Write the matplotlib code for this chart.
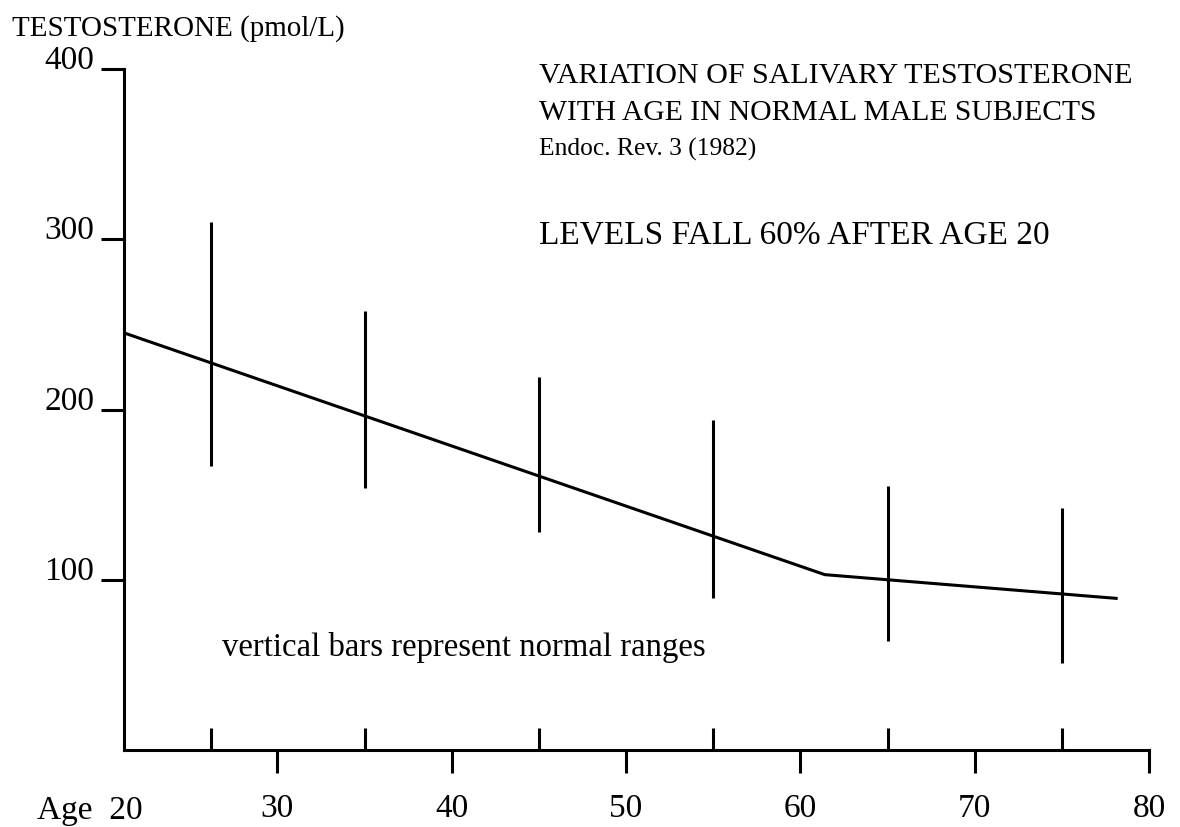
import matplotlib
matplotlib.use("Agg")
import matplotlib.pyplot as plt
from matplotlib.ticker import FixedLocator

# ---- data ----
bar_ages = [26.2, 35, 45, 55, 65, 75]
bar_high = [310, 258, 219, 194, 155, 142]
bar_low = [167, 154, 128, 89, 64, 51]

line_ages = [21.2, 61.4, 78.2]
line_vals = [245, 103, 89]

x_major = [30, 40, 50, 60, 70, 80]
x_major_labels = ["30", "40", "50", "60", "70", "80"]
x_minor = [26.2, 35, 45, 55, 65, 75]
y_ticks = [100, 200, 300, 400]
y_labels = ["100", "200", "300", "400"]

FONT = "Liberation Serif"
plt.rcParams["font.family"] = [FONT, "DejaVu Serif"]

W, H = 1180, 827
fig = plt.figure(figsize=(W / 100, H / 100), dpi=100)
fig.patch.set_facecolor("white")
ax = fig.add_axes([124 / W, 1 - 750 / H, (1149 - 124) / W, (750 - 69) / H])

lw = 2.2
ax.plot(line_ages, line_vals, color="black", lw=lw, solid_capstyle="butt",
        solid_joinstyle="round")
ax.vlines(bar_ages, bar_low, bar_high, color="black", lw=lw)

ax.set_xlim(21.2, 80)
ax.set_ylim(0, 400)

for s in ["top", "right"]:
    ax.spines[s].set_visible(False)
for s in ["left", "bottom"]:
    ax.spines[s].set_linewidth(lw)
    ax.spines[s].set_capstyle("projecting")

ax.xaxis.set_major_locator(FixedLocator(x_major))
ax.set_xticklabels(x_major_labels)
ax.xaxis.set_minor_locator(FixedLocator(x_minor))
ax.set_yticks(y_ticks)
ax.set_yticklabels(y_labels)

ax.tick_params(axis="x", which="major", direction="out", length=16.5, width=lw,
               pad=15, labelsize=24)
ax.tick_params(axis="x", which="minor", direction="in", length=16, width=lw)
ax.tick_params(axis="y", which="major", direction="out", length=16.5, width=lw,
               pad=5, labelsize=24)
for lab in ax.get_yticklabels():
    lab.set_va("baseline")

def ftext(x, y, s, size, ha="left"):
    fig.text(x / W, 1 - y / H, s, fontsize=size, ha=ha, va="baseline")

ftext(12, 36, "TESTOSTERONE (pmol/L)", 20.9)
ftext(143, 819, "Age  20", 24, ha="right")

ftext(539, 83, "VARIATION OF SALIVARY TESTOSTERONE", 21.6)
ftext(539, 120, "WITH AGE IN NORMAL MALE SUBJECTS", 21.3)
ftext(539, 156, "Endoc. Rev. 3 (1982)", 18.4)
ftext(539, 244, "LEVELS FALL 60% AFTER AGE 20", 24)
ftext(222, 656, "vertical bars represent normal ranges", 23.6)

fig.savefig("out.png", dpi=100, facecolor="white")
